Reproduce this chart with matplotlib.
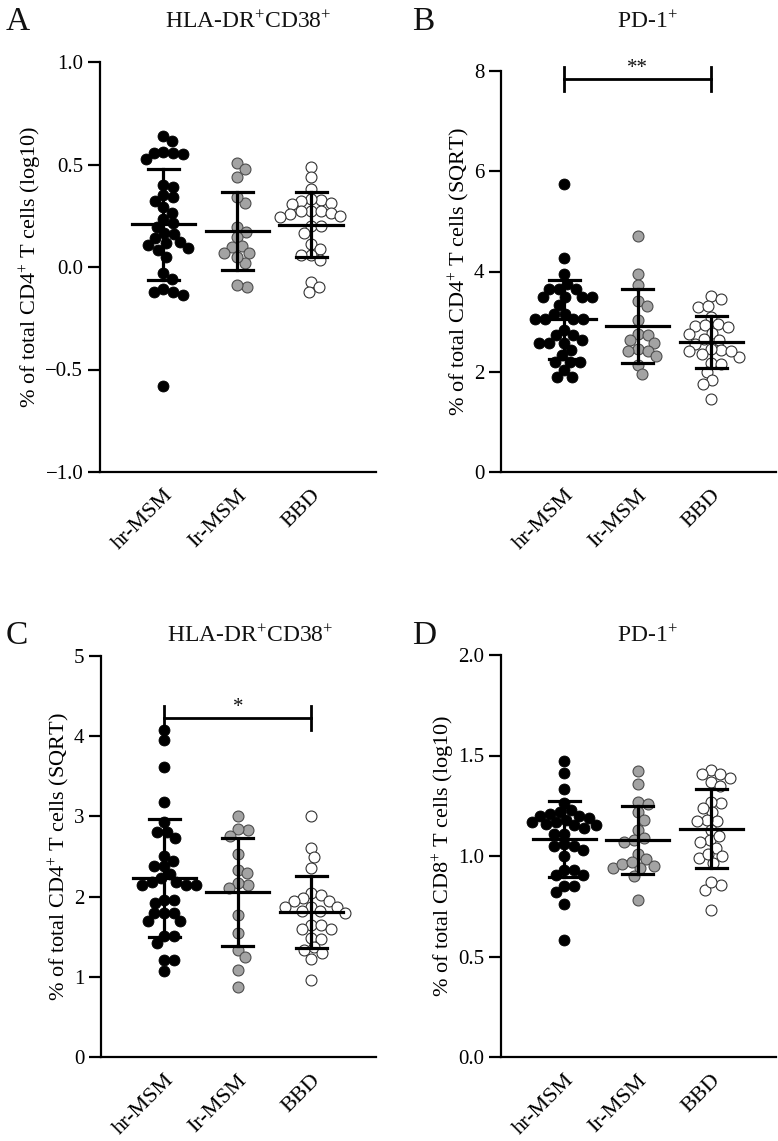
import numpy as np
import matplotlib
matplotlib.use("Agg")
import matplotlib.pyplot as plt

plt.rcParams['font.family'] = ['Liberation Serif', 'DejaVu Serif']
plt.rcParams['mathtext.fontset'] = 'custom'
plt.rcParams['mathtext.rm'] = 'Liberation Serif'
plt.rcParams['mathtext.it'] = 'Liberation Serif:italic'
plt.rcParams['text.color'] = '#111111'

groups = ['hr-MSM', 'Ir-MSM', 'BBD']

# panel A: CD4+ HLA-DR+CD38+ (log10)
a_hr = [0.639, 0.616, 0.555, 0.562, 0.550, 0.555, 0.525, 0.389, 0.400, 0.351, 0.340,
        0.324, 0.291, 0.265, 0.233, 0.197, 0.213, 0.164, 0.140, 0.161, 0.116, 0.107,
        0.091, 0.123, 0.083, 0.050, -0.031, -0.060, -0.109, -0.120, -0.120, -0.137, -0.579]
a_lr = [0.509, 0.477, 0.437, 0.311, 0.340, 0.197, 0.172, 0.145, 0.096, 0.102, 0.067,
        0.067, 0.018, 0.050, -0.096, -0.088]
a_bbd = [0.486, 0.437, 0.379, 0.327, 0.330, 0.324, 0.314, 0.307, 0.275, 0.275, 0.275,
         0.265, 0.259, 0.249, 0.245, 0.200, 0.200, 0.164, 0.112, 0.086, 0.059, 0.059,
         0.034, -0.072, -0.120, -0.099]

# panel B: CD4+ PD-1+ (SQRT)
b_hr = [5.74, 4.27, 3.95, 3.76, 3.66, 3.66, 3.66, 3.50, 3.50, 3.50, 3.50, 3.33, 3.16,
        3.16, 3.06, 3.06, 3.06, 3.06, 2.83, 2.73, 2.73, 2.58, 2.58, 2.58, 2.64, 2.43,
        2.33, 2.20, 2.20, 2.20, 2.03, 1.90, 1.90]
b_lr = [4.70, 3.95, 3.73, 3.41, 3.32, 3.04, 2.76, 2.73, 2.63, 2.58, 2.46, 2.41, 2.42,
        2.31, 2.13, 1.95]
b_bbd = [3.51, 3.45, 3.30, 3.32, 3.09, 2.95, 2.91, 2.93, 2.89, 2.76, 2.78, 2.65, 2.63,
         2.56, 2.43, 2.45, 2.41, 2.36, 2.30, 2.18, 2.15, 2.00, 1.83, 1.76, 1.45, 2.42]

# panel C: CD4+ HLA-DR+CD38+ (SQRT)
c_hr = [4.08, 3.95, 3.61, 3.18, 2.93, 2.81, 2.81, 2.73, 2.51, 2.38, 2.38, 2.28, 2.23,
        2.18, 2.14, 2.14, 2.14, 2.18, 1.96, 1.96, 1.92, 1.80, 1.79, 1.79, 1.69, 1.69,
        1.51, 1.51, 1.42, 1.21, 1.21, 1.07, 2.45]
c_lr = [3.00, 2.83, 2.84, 2.76, 2.53, 2.33, 2.30, 2.15, 2.17, 2.11, 1.77, 1.55, 1.33,
        1.25, 1.09, 0.87]
c_bbd = [3.00, 2.61, 2.49, 2.36, 2.05, 2.02, 1.98, 1.94, 1.94, 1.87, 1.87, 1.87, 1.82,
         1.82, 1.80, 1.64, 1.64, 1.60, 1.60, 1.49, 1.47, 1.34, 1.37, 1.30, 1.22, 0.96]

# panel D: CD8+ PD-1+ (log10)
d_hr = [1.474, 1.411, 1.332, 1.265, 1.22, 1.23, 1.20, 1.20, 1.21, 1.154, 1.154, 1.17,
        1.16, 1.18, 1.17, 1.14, 1.11, 1.11, 1.06, 1.05, 1.05, 1.03, 1.00, 0.93, 0.93,
        0.905, 0.905, 0.85, 0.85, 0.82, 0.76, 0.58, 1.19]
d_lr = [1.423, 1.357, 1.27, 1.26, 1.22, 1.18, 1.13, 1.09, 1.07, 1.08, 1.01, 0.985,
        0.95, 0.94, 0.94, 0.96, 0.97, 0.90, 0.78]
d_bbd = [1.43, 1.39, 1.41, 1.41, 1.37, 1.35, 1.265, 1.27, 1.22, 1.24, 1.175, 1.18,
         1.13, 1.175, 1.08, 1.10, 1.07, 1.04, 0.99, 0.966, 1.00, 1.01, 0.855, 0.83,
         0.87, 0.73]

W, H = 778, 1141
fig = plt.figure(figsize=(W / 100, H / 100), dpi=100)


def box(l, r, t, b):
    return [l / W, 1 - b / H, (r - l) / W, (b - t) / H]


styles = [dict(facecolor='black', edgecolor='black', linewidths=0.6),
          dict(facecolor='#a3a3a3', edgecolor='#4d4d4d', linewidths=0.8),
          dict(facecolor='white', edgecolor='#333333', linewidths=0.8)]

DIAM = 10.0


def swarm(ax, x0, vals):
    pts = ax.transData.transform(np.column_stack([np.full(len(vals), x0), vals]))
    ys = pts[:, 1]
    xc = pts[0, 0]
    xs = np.zeros(len(vals))
    placed = []
    for i in np.argsort(-ys):
        y = ys[i]
        cands = [0.0]
        for px, py in placed:
            dy = y - py
            if abs(dy) < DIAM:
                dx = np.sqrt(DIAM ** 2 - dy ** 2)
                cands += [px + dx, px - dx]
        cands.sort(key=abs)
        for c in cands:
            if all((c - px) ** 2 + (y - py) ** 2 >= DIAM ** 2 - 1e-6 for px, py in placed):
                xs[i] = c
                placed.append((c, y))
                break
    back = ax.transData.inverted().transform(np.column_stack([xc + xs, ys]))
    return back[:, 0]


def panel(pos, data, ylim, yticks, fmt, ylabel, title, letter, letter_xy, title_x, sig=None):
    ax = fig.add_axes(box(*pos))
    ax.set_xlim(-0.86, 2.88)
    ax.set_ylim(*ylim)
    ax.set_yticks(yticks)
    ax.set_yticklabels([fmt(v).replace('-', '\u2212') for v in yticks])
    ax.set_xticks(range(3))
    ax.set_xticklabels(groups, rotation=45, ha='right', rotation_mode='anchor')
    for s in ['top', 'right']:
        ax.spines[s].set_visible(False)
    for s in ['left', 'bottom']:
        ax.spines[s].set_linewidth(1.6)
    ax.tick_params(axis='y', length=9, width=1.6, labelsize=15, pad=3)
    ax.tick_params(axis='x', length=0, labelsize=16, pad=10)
    ax.set_ylabel(ylabel, fontsize=16, labelpad=1)
    for i, vals in enumerate(data):
        xs = swarm(ax, i, vals)
        ax.scatter(xs, vals, s=62, zorder=2, clip_on=False, **styles[i])
        m = np.mean(vals)
        sd = np.std(vals, ddof=1)
        ax.plot([i - 0.43, i + 0.43], [m, m], color='black', lw=2.3, zorder=3)
        ax.plot([i, i], [m - sd, m + sd], color='black', lw=2.3, zorder=3)
        for e in (m - sd, m + sd):
            ax.plot([i - 0.21, i + 0.21], [e, e], color='black', lw=2.3, zorder=3)
    if sig is not None:
        yb, cap, txt = sig
        ax.plot([0, 2], [yb, yb], color='black', lw=2, clip_on=False)
        for x in (0, 2):
            ax.plot([x, x], [yb - cap, yb + cap], color='black', lw=2, clip_on=False)
        ax.text(1, yb + cap * 0.05, txt, ha='center', va='bottom', fontsize=15)
    top = pos[2]
    fig.text(title_x / W, 1 - 22 / H if top < 300 else 1 - 636 / H, title,
             ha='center', va='center', fontsize=17)
    fig.text(letter_xy[0] / W, 1 - letter_xy[1] / H, letter, ha='left', va='center', fontsize=24)
    return ax


panel((100, 376, 62, 472), [a_hr, a_lr, a_bbd], (-1.0, 1.0), [-1.0, -0.5, 0.0, 0.5, 1.0],
      lambda v: '%.1f' % v, r'% of total CD4$^{+}$ T cells (log10)',
      r'HLA-DR$^{+}$CD38$^{+}$', 'A', (6, 22), 248)
panel((501, 776, 71, 472), [b_hr, b_lr, b_bbd], (0, 8), [0, 2, 4, 6, 8],
      lambda v: '%d' % v, r'% of total CD4$^{+}$ T cells (SQRT)',
      r'PD-1$^{+}$', 'B', (412, 22), 647, sig=(7.84, 0.23, '**'))
panel((101, 376, 656, 1057), [c_hr, c_lr, c_bbd], (0, 5), [0, 1, 2, 3, 4, 5],
      lambda v: '%d' % v, r'% of total CD4$^{+}$ T cells (SQRT)',
      r'HLA-DR$^{+}$CD38$^{+}$', 'C', (6, 636), 250, sig=(4.23, 0.15, '*'))
panel((501, 776, 655, 1057), [d_hr, d_lr, d_bbd], (0, 2.0), [0.0, 0.5, 1.0, 1.5, 2.0],
      lambda v: '%.1f' % v, r'% of total CD8$^{+}$ T cells (log10)',
      r'PD-1$^{+}$', 'D', (412, 636), 647)

fig.savefig('out.png', dpi=100)
